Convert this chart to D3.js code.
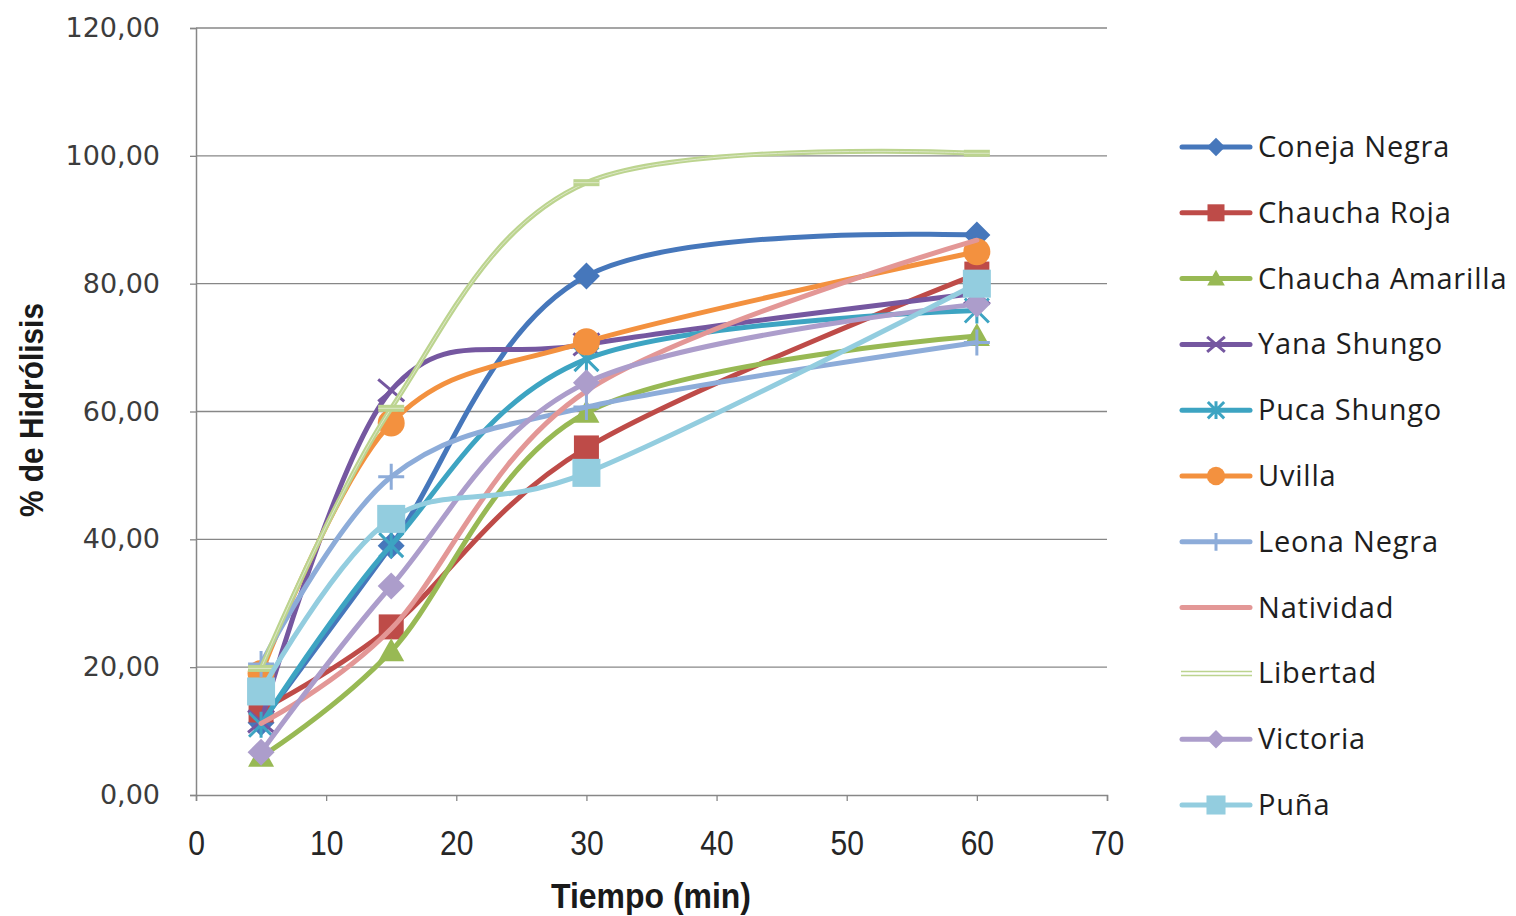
<!DOCTYPE html>
<html>
<head>
<meta charset="utf-8">
<script src="https://cdn.jsdelivr.net/npm/d3@7"></script>
<style>
  body { margin: 0; background: #ffffff; }
  svg { display: block; }
</style>
</head>
<body>
<svg id="chart" width="1516" height="916"></svg>
<script>
// Tiempo de muestreo (min)
const tiempos = [5, 15, 30, 60];

// % de hidrólisis por variedad
const conejaNegra     = [11.3, 39.0, 81.2, 87.6];
const chauchaRoja     = [13.3, 26.3, 54.3, 81.5];
const chauchaAmarilla = [6.0, 22.5, 59.8, 71.8];
const yanaShungo      = [11.5, 63.3, 70.5, 78.5];
const pucaShungo      = [11.0, 39.1, 68.2, 75.8];
const uvilla          = [19.0, 58.2, 70.9, 85.0];
const leonaNegra      = [20.5, 49.8, 60.7, 70.8];
const natividad       = [11.2, 26.0, 63.2, 86.8];
const libertad        = [19.8, 60.5, 95.8, 100.4];
const victoria        = [6.7, 32.7, 64.5, 76.8];
const puna            = [16.2, 43.2, 50.4, 80.0];

const xTicks = [0, 10, 20, 30, 40, 50, 60, 70];
const yTicks = [0, 20, 40, 60, 80, 100, 120];

const series = [
  { name: "Coneja Negra",     values: conejaNegra },
  { name: "Chaucha Roja",     values: chauchaRoja },
  { name: "Chaucha Amarilla", values: chauchaAmarilla },
  { name: "Yana Shungo",      values: yanaShungo },
  { name: "Puca Shungo",      values: pucaShungo },
  { name: "Uvilla",           values: uvilla },
  { name: "Leona Negra",      values: leonaNegra },
  { name: "Natividad",        values: natividad },
  { name: "Libertad",         values: libertad },
  { name: "Victoria",         values: victoria },
  { name: "Puña",             values: puna }
];

// Appearance of each series
const styles = {
  "Coneja Negra":     { color: "#4677BB", marker: "diamond" },
  "Chaucha Roja":     { color: "#BE4B48", marker: "square" },
  "Chaucha Amarilla": { color: "#98B954", marker: "triangle" },
  "Yana Shungo":      { color: "#7557A0", marker: "cross" },
  "Puca Shungo":      { color: "#3DA4C2", marker: "star" },
  "Uvilla":           { color: "#F3913F", marker: "circle" },
  "Leona Negra":      { color: "#8DACD9", marker: "plus" },
  "Natividad":        { color: "#E39796", marker: "none" },
  "Libertad":         { color: "#BCD48F", marker: "dash", double: true },
  "Victoria":         { color: "#AC9DCB", marker: "diamond" },
  "Puña":             { color: "#93CDDF", marker: "square", big: true }
};

const svg = d3.select("#chart");
const plot = { left: 196, right: 1107, top: 28, bottom: 795 };

const x = d3.scaleLinear().domain([0, 70]).range([plot.left, plot.right]);
const y = d3.scaleLinear().domain([0, 120]).range([plot.bottom, plot.top]);

const es = d3.formatLocale({ decimal: ",", thousands: ".", grouping: [3], currency: ["", ""] });
const fmt2 = es.format(".2f");

const gridColor = "#878787";

// Horizontal gridlines
svg.append("g")
  .selectAll("line")
  .data(yTicks.filter(d => d > 0))
  .join("line")
  .attr("x1", plot.left).attr("x2", plot.right)
  .attr("y1", d => y(d)).attr("y2", d => y(d))
  .attr("stroke", gridColor).attr("stroke-width", 1.3);

// Y axis
const yAxis = svg.append("g")
  .attr("transform", `translate(${plot.left},0)`)
  .call(d3.axisLeft(y).tickValues(yTicks).tickFormat(fmt2).tickSize(6).tickPadding(30));
yAxis.select(".domain").attr("stroke", gridColor).attr("stroke-width", 1.5);
yAxis.selectAll(".tick line").attr("stroke", gridColor).attr("stroke-width", 1.3);
yAxis.selectAll(".tick text")
  .attr("fill", "#3c3c3c")
  .style("font-family", "'DejaVu Sans', Verdana, sans-serif")
  .style("font-size", "27px");

// X axis
const xAxis = svg.append("g")
  .attr("transform", `translate(0,${plot.bottom})`)
  .call(d3.axisBottom(x).tickValues(xTicks).tickSize(6).tickPadding(29));
xAxis.select(".domain").attr("stroke", gridColor).attr("stroke-width", 1.5);
xAxis.selectAll(".tick line").attr("stroke", gridColor).attr("stroke-width", 1.3);
xAxis.selectAll(".tick text")
  .attr("fill", "#262626")
  .attr("transform", "scale(0.86,1)")
  .style("font-family", "'Liberation Sans', Arial, sans-serif")
  .style("font-size", "35px");

// Axis titles
svg.append("text")
  .attr("x", 651).attr("y", 908)
  .attr("text-anchor", "middle")
  .attr("textLength", 200).attr("lengthAdjust", "spacingAndGlyphs")
  .style("font-family", "'Liberation Sans', Arial, sans-serif")
  .style("font-weight", "bold").style("font-size", "35px")
  .attr("fill", "#1a1a1a")
  .text("Tiempo (min)");

svg.append("text")
  .attr("transform", "translate(43,410) rotate(-90)")
  .attr("text-anchor", "middle")
  .attr("textLength", 214).attr("lengthAdjust", "spacingAndGlyphs")
  .style("font-family", "'Liberation Sans', Arial, sans-serif")
  .style("font-weight", "bold").style("font-size", "33px")
  .attr("fill", "#1a1a1a")
  .text("% de Hidrólisis");

// Marker drawing
function drawMarker(g, type, color, k, big) {
  const s = k;
  switch (type) {
    case "diamond":
      g.append("path").attr("d", `M0,${-13.5 * s}L${13.5 * s},0L0,${13.5 * s}L${-13.5 * s},0Z`).attr("fill", color);
      break;
    case "square": {
      const h = (big ? 14 : 12.5) * s;
      g.append("rect").attr("x", -h).attr("y", -h).attr("width", 2 * h).attr("height", 2 * h).attr("fill", color);
      break;
    }
    case "triangle":
      g.append("path").attr("d", `M0,${-13 * s}L${13 * s},${10 * s}L${-13 * s},${10 * s}Z`).attr("fill", color);
      break;
    case "circle":
      g.append("circle").attr("r", 13.5 * s).attr("fill", color);
      break;
    case "cross":
      g.append("path").attr("d", `M${-13 * s},${-11 * s}L${13 * s},${11 * s}M${-13 * s},${11 * s}L${13 * s},${-11 * s}`)
        .attr("stroke", color).attr("stroke-width", 3).attr("fill", "none");
      break;
    case "star":
      g.append("path").attr("d", `M${-12 * s},${-12 * s}L${12 * s},${12 * s}M${-12 * s},${12 * s}L${12 * s},${-12 * s}M0,${-13 * s}L0,${13 * s}`)
        .attr("stroke", color).attr("stroke-width", 3).attr("fill", "none");
      break;
    case "plus":
      g.append("path").attr("d", `M${-13 * s},0L${13 * s},0M0,${-13 * s}L0,${13 * s}`)
        .attr("stroke", color).attr("stroke-width", 3).attr("fill", "none");
      break;
    case "dash":
      g.append("rect").attr("x", -13 * s).attr("y", -3.5).attr("width", 26 * s).attr("height", 7).attr("fill", color);
      g.append("rect").attr("x", -13 * s).attr("y", -0.5).attr("width", 26 * s).attr("height", 1).attr("fill", "#dde8c8");
      break;
  }
}

const line = d3.line()
  .x((d, i) => x(tiempos[i]))
  .y(d => y(d))
  .curve(d3.curveCardinal.tension(0));

// Series lines and markers
const layer = svg.append("g");
series.forEach(s => {
  const st = styles[s.name];
  const g = layer.append("g");
  g.append("path")
    .attr("d", line(s.values))
    .attr("fill", "none")
    .attr("stroke", st.color)
    .attr("stroke-width", 5)
    .attr("stroke-linecap", "round")
    .attr("stroke-linejoin", "round");
  if (st.double) {
    g.append("path")
      .attr("d", line(s.values))
      .attr("fill", "none")
      .attr("stroke", "#dde8c8")
      .attr("stroke-width", 1);
  }
  if (st.marker !== "none") {
    s.values.forEach((v, i) => {
      const m = g.append("g").attr("transform", `translate(${x(tiempos[i])},${y(v)})`);
      drawMarker(m, st.marker, st.color, 1, st.big);
    });
  }
});

// Legend
const legend = svg.append("g");
series.forEach((s, i) => {
  const st = styles[s.name];
  const cy = 147 + i * 65.8;
  const row = legend.append("g").attr("transform", `translate(0,${cy})`);
  if (st.double) {
    row.append("line").attr("x1", 1181).attr("x2", 1252).attr("y1", -2).attr("y2", -2)
      .attr("stroke", st.color).attr("stroke-width", 1.5);
    row.append("line").attr("x1", 1181).attr("x2", 1252).attr("y1", 2).attr("y2", 2)
      .attr("stroke", st.color).attr("stroke-width", 1.5);
  } else {
    row.append("line").attr("x1", 1182).attr("x2", 1250).attr("y1", 0).attr("y2", 0)
      .attr("stroke", st.color).attr("stroke-width", 5).attr("stroke-linecap", "round");
    if (st.marker !== "none") {
      const m = row.append("g").attr("transform", "translate(1216,0)");
      drawMarker(m, st.marker, st.color, 0.68, st.big);
    }
  }
  row.append("text")
    .attr("x", 1258).attr("y", 10)
    .style("font-family", "'Open Sans', 'Noto Sans', sans-serif")
    .style("font-size", "29px")
    .style("letter-spacing", "0.8px")
    .attr("fill", "#1e1e1e")
    .text(s.name);
});
</script>
</body>
</html>
